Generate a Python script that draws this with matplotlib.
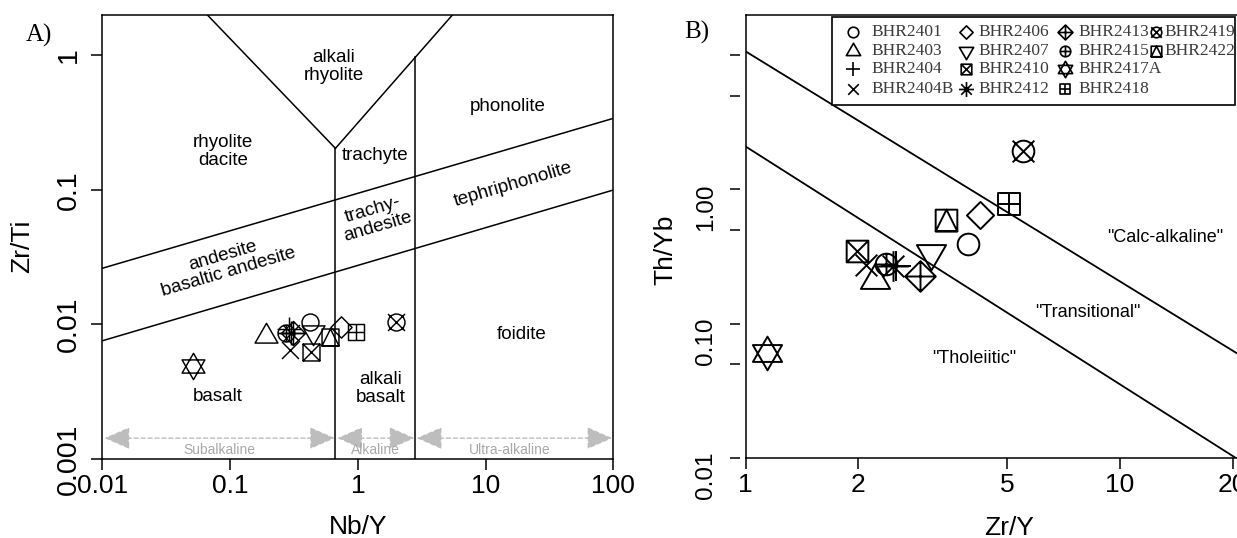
import matplotlib
matplotlib.use("Agg")
import matplotlib.pyplot as plt
from matplotlib.path import Path
from matplotlib.patches import Rectangle
from matplotlib.lines import Line2D
import matplotlib.transforms as mtransforms
import numpy as np

plt.rcParams['font.family'] = ['Liberation Sans', 'DejaVu Sans']

# ---------------- data ----------------
samples = ['BHR2401', 'BHR2403', 'BHR2404', 'BHR2404B', 'BHR2406', 'BHR2407', 'BHR2410',
           'BHR2412', 'BHR2413', 'BHR2415', 'BHR2417A', 'BHR2418', 'BHR2419', 'BHR2422']
pch = [1, 2, 3, 4, 5, 6, 7, 8, 9, 10, 11, 12, 13, 14]
nb_y = [0.42, 0.19, 0.289, 0.296, 0.743, 0.446, 0.432, 0.30, 0.311, 0.276, 0.0508, 0.973, 1.975, 0.602]
zr_ti = [0.0105, 0.0082, 0.0092, 0.00646, 0.00953, 0.00883, 0.00628, 0.0086, 0.0086, 0.0086,
         0.00491, 0.00883, 0.0105, 0.0081]
zr_y = [3.93, 2.22, 2.52, 2.10, 4.22, 3.12, 1.985, 2.48, 2.92, 2.37, 1.14, 5.06, 5.51, 3.43]
th_yb = [0.395, 0.211, 0.27, 0.272, 0.641, 0.334, 0.348, 0.268, 0.225, 0.28, 0.060, 0.774, 1.95, 0.588]

# Panel A field boundaries (Nb/Y, Zr/Ti)
v_left_x, v_left_y = [0.0664, 0.667], [2.0, 0.204]
v_right_x, v_right_y = [0.667, 5.49], [0.204, 2.0]
vert1_x, vert1_y = [0.667, 0.667], [0.001, 0.204]
vert2_x, vert2_y = [2.82, 2.82], [0.001, 0.97]
upper_x, upper_y = [0.01, 100], [0.0262, 0.341]
lower_x, lower_y = [0.01, 100], [0.00757, 0.1]

# Panel A series arrows
series_names = ['Subalkaline', 'Alkaline', 'Ultra-alkaline']
series_x0 = [0.0104, 0.69, 2.89]
series_x1 = [0.661, 2.77, 98.0]
series_lab_x = [0.083, 1.38, 15.5]
arrow_y = 0.00143
arrow_lab_y = 0.00117

# Panel A field labels
fieldsA = [
    ("alkali\nrhyolite", 0.647, 0.826, 0),
    ("rhyolite\ndacite", 0.088, 0.193, 0),
    ("trachyte", 1.365, 0.182, 0),
    ("phonolite", 14.8, 0.416, 0),
    ("tephriphonolite", 16.5, 0.109, 16.3),
    ("trachy-\nandesite", 1.365, 0.0619, 16.3),
    ("andesite\nbasaltic andesite", 0.0925, 0.0282, 16.3),
    ("foidite", 18.97, 0.00836, 0),
    ("alkali\nbasalt", 1.517, 0.00335, 0),
    ("basalt", 0.0802, 0.0029, 0),
]

# Panel B boundaries (Zr/Y, Th/Yb)
ca_x, ca_y = [1, 30], [10.7, 0.0314]
th_x, th_y = [1, 30], [2.09, 0.00503]
fieldsB = [
    ('"Calc-alkaline"', 13.2, 0.44),
    ('"Transitional"', 8.23, 0.1217),
    ('"Tholeiitic"', 4.08, 0.0545),
]
B_xticks = [1, 2, 5, 10, 20]
B_yticks = [0.01, 0.05, 0.1, 0.5, 1, 5, 10]
B_ylabels = ['0.01', '0.10', '1.00']
B_ylabel_pos = [0.00735, 0.0735, 0.735]

# ---------------- marker shapes (R pch style) ----------------
def seg(p, q):
    return Path([p, q], [Path.MOVETO, Path.LINETO])

def poly(pts):
    pts = list(pts)
    return Path(pts + [pts[0]], [Path.MOVETO] + [Path.LINETO] * (len(pts) - 1) + [Path.CLOSEPOLY])

s2 = np.sqrt(2)
circ = Path.unit_circle()
rt, yct, xct = 1.555, 0.777, 1.347
tri_up = poly([(0, rt), (-xct, -yct), (xct, -yct)])
tri_dn = poly([(0, -rt), (-xct, yct), (xct, yct)])
plus_big = [seg((-s2, 0), (s2, 0)), seg((0, -s2), (0, s2))]
plus1 = [seg((-1, 0), (1, 0)), seg((0, -1), (0, 1))]
xx = [seg((-1, -1), (1, 1)), seg((-1, 1), (1, -1))]
sq = poly([(-1, -1), (1, -1), (1, 1), (-1, 1)])
dm = poly([(0, 1.2533), (1.2533, 0), (0, -1.2533), (-1.2533, 0)])
dm2 = poly([(0, s2), (s2, 0), (0, -s2), (-s2, 0)])
rho = 1.555
hexU = poly([(0, rho), (-rho * 0.866, -rho / 2), (rho * 0.866, -rho / 2)])
hexD = poly([(0, -rho), (-rho * 0.866, rho / 2), (rho * 0.866, rho / 2)])
tri14 = poly([(-1, -1), (0, 1), (1, -1)])
shapes = {1: [circ], 2: [tri_up], 3: plus_big, 4: xx, 5: [dm], 6: [tri_dn],
          7: [sq] + xx, 8: plus_big + xx, 9: [dm2] + plus_big, 10: [circ] + plus1,
          11: [hexU, hexD], 12: [sq] + plus1, 13: [circ] + xx, 14: [sq, tri14]}


def marker_for(code):
    p = Path.make_compound_path(*shapes[code])
    m = np.max(np.abs(p.vertices))
    return p, m


def draw_point(target, x, y, code, r_pt, lw):
    p, m = marker_for(code)
    target.plot([x], [y], marker=p, ms=2 * m * r_pt, mfc='none', mec='black',
                mew=lw, ls='none', clip_on=False)

# ---------------- figure ----------------
W, H = 1237, 538
fig = plt.figure(figsize=(W / 100, H / 100), dpi=100)

def fx(px):
    return px / W

def fy(py):
    return 1 - py / H

# Panel A
axA = fig.add_axes([fx(102.4), fy(459), fx(613.4) - fx(102.4), fy(15) - fy(459)])
axA.set_xscale('log')
axA.set_yscale('log')
axA.set_xlim(0.01, 100)
axA.set_ylim(0.001, 2)
for xs, ys in [(v_left_x, v_left_y), (v_right_x, v_right_y), (vert1_x, vert1_y),
               (vert2_x, vert2_y), (upper_x, upper_y), (lower_x, lower_y)]:
    axA.plot(xs, ys, color='black', lw=1.1)

for t, x, y, rot in fieldsA:
    axA.text(x, y, t, ha='center', va='center', rotation=rot, rotation_mode='anchor',
             fontsize=13.5, linespacing=1.05)

grey = '#bdbdbd'
for name, x0, x1, lx in zip(series_names, series_x0, series_x1, series_lab_x):
    axA.annotate('', xy=(x1, arrow_y), xytext=(x0, arrow_y),
                 arrowprops=dict(arrowstyle='<|-|>,head_length=0.8,head_width=0.35',
                                 color=grey, lw=1.0, linestyle=(0, (3, 2)),
                                 shrinkA=0, shrinkB=0, mutation_scale=20))
    axA.text(lx, arrow_lab_y, name, ha='center', va='center', fontsize=10, color='#a8a8a8')

for x, y, c in zip(nb_y, zr_ti, pch):
    draw_point(axA, x, y, c, 6.1, 1.05)

axA.set_xticks([0.01, 0.1, 1, 10, 100])
axA.set_xticklabels(['0.01', '0.1', '1', '10', '100'])
axA.set_yticks([0.001, 0.01, 0.1, 1])
axA.set_yticklabels(['0.001', '0.01', '0.1', '1'])

# Panel B
axB = fig.add_axes([fx(745.7), fy(457.7), fx(1272) - fx(745.7), fy(15) - fy(457.7)])
axB.set_xscale('log')
axB.set_yscale('log')
axB.set_xlim(1, 25.5)
axB.set_ylim(0.01, 20)
axB.plot(ca_x, ca_y, color='black', lw=1.3)
axB.plot(th_x, th_y, color='black', lw=1.3)
for t, x, y in fieldsB:
    axB.text(x, y, t, ha='center', va='center', fontsize=13)
for x, y, c in zip(zr_y, th_yb, pch):
    draw_point(axB, x, y, c, 7.8, 1.4)
axB.set_xticks(B_xticks)
axB.set_xticklabels([str(v) for v in B_xticks])
axB.set_yticks(B_yticks)
axB.set_yticklabels([''] * len(B_yticks))

for ax in (axA, axB):
    ax.minorticks_off()
    ax.tick_params(which='minor', length=0)
    for s in ax.spines.values():
        s.set_linewidth(1.1)
    ax.tick_params(axis='both', direction='out', length=8, width=1.1, color='black')
    ax.tick_params(axis='x', pad=3, labelsize=19)

axA.tick_params(axis='y', pad=7, labelrotation=90, labelsize=20.5)
for lab in axA.get_yticklabels():
    lab.set_va('center')
    lab.set_ha('right')

# B: y ticks detached from the frame
axB.spines['left'].set_position(('outward', 4))
axB.spines['left'].set_visible(False)
axB.tick_params(axis='y', length=7)
axB.axvline(axB.get_xlim()[0], color='black', lw=1.1, clip_on=False)
trB = mtransforms.blended_transform_factory(axB.transAxes, axB.transData)
for lab, yv in zip(B_ylabels, B_ylabel_pos):
    axB.text((706 - 745.7) / 526.3, yv, lab, transform=trB, rotation=90, ha='center',
             va='center', fontsize=17.5, clip_on=False)

axA.set_xlabel('Nb/Y', fontsize=19, va='center')
axA.xaxis.set_label_coords(0.5, (459 - 527) / 444)
axA.set_ylabel('Zr/Ti', fontsize=19, va='center')
axA.yaxis.set_label_coords((22 - 102.4) / 511, (459 - 246) / 444)

axB.set_xlabel('Zr/Y', fontsize=19, va='center')
axB.xaxis.set_label_coords(0.5, (457.7 - 528) / 442.7)
axB.set_ylabel('Th/Yb', fontsize=19, va='center')
axB.yaxis.set_label_coords((665 - 745.7) / 526.3, (457.7 - 250) / 442.7)

# panel letters
fig.text(fx(39), fy(35), 'A)', family='Liberation Serif', fontsize=18, ha='center', va='center')
fig.text(fx(697), fy(32), 'B)', family='Liberation Serif', fontsize=18, ha='center', va='center')

# legend (manual grid)
leg_x0, leg_x1, leg_y0, leg_y1 = 832, 1235, 17, 105
fig.add_artist(Rectangle((fx(leg_x0), fy(leg_y1)), fx(leg_x1) - fx(leg_x0), fy(leg_y0) - fy(leg_y1),
                         transform=fig.transFigure, facecolor='white', edgecolor='black', lw=1.2,
                         zorder=5))
col_marker = [853, 966, 1065, 1156]
col_text = [871, 978, 1078, 1164]
row_y = [32, 51, 69, 89]
for i, (name, c) in enumerate(zip(samples, pch)):
    col, row = divmod(i, 4)
    p, m = marker_for(c)
    fig.add_artist(Line2D([fx(col_marker[col])], [fy(row_y[row])], marker=p, ms=2 * m * 3.8,
                          mfc='none', mec='black', mew=1.2, ls='none',
                          transform=fig.transFigure, zorder=6))
    fig.text(fx(col_text[col]), fy(row_y[row]), name, family='Liberation Serif', fontsize=12.5,
             color='#3a3a3a', ha='left', va='center', zorder=6)

fig.savefig('out.png', dpi=100)
